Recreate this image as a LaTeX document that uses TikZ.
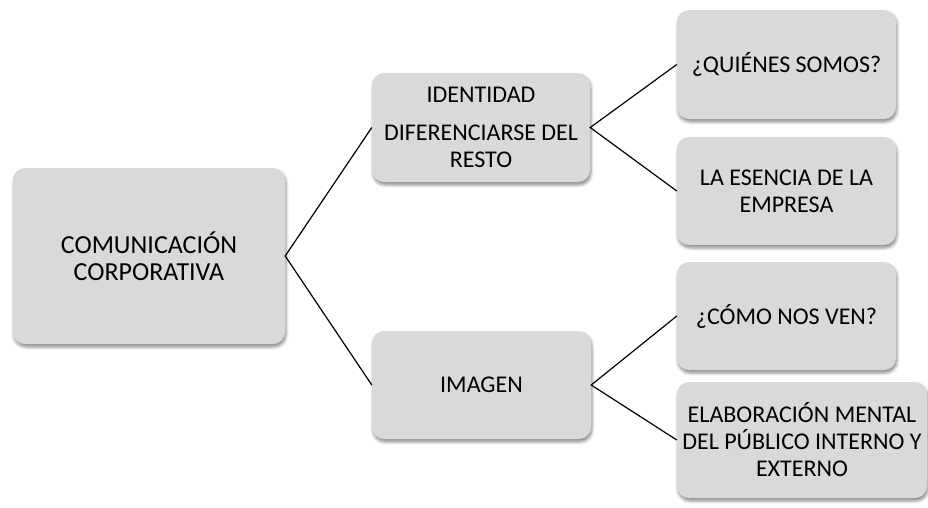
\documentclass[tikz,border=0pt]{standalone}
\usepackage{fontspec}
\setmainfont{Carlito}
\usetikzlibrary{shadows.blur}
\definecolor{boxgray}{HTML}{D9D9D9}
\begin{document}
\begin{tikzpicture}[x=1pt,y=-1pt,
  card/.style={rectangle, rounded corners=12pt, fill=boxgray, draw=none,
    align=center, inner sep=0pt,
    blur shadow={shadow xshift=1pt, shadow yshift=-3pt, shadow blur radius=3pt, shadow opacity=45},
    font=\fontsize{24}{27}\selectfont},
  link/.style={draw=black, line width=1.2pt}]
\useasboundingbox (0,0) rectangle (928,507);

\node[card, minimum width=272pt, minimum height=176pt,
  font=\fontsize{26}{27.5}\selectfont] (root) at (149,256)
  {COMUNICACIÓN\\CORPORATIVA};

\node[card, minimum width=218pt, minimum height=109pt] (ident) at (481,127.5)
  {IDENTIDAD\\[11pt]DIFERENCIARSE DEL\\RESTO};
\node[card, minimum width=219pt, minimum height=108pt] (imagen) at (481.5,385)
  {IMAGEN};

\node[card, minimum width=219pt, minimum height=109pt] (quienes) at (786.5,64.5)
  {¿QUIÉNES SOMOS?};
\node[card, minimum width=219pt, minimum height=108pt] (esencia) at (786.5,191)
  {LA ESENCIA DE LA\\EMPRESA};
\node[card, minimum width=219pt, minimum height=108pt] (comonos) at (786.5,316)
  {¿CÓMO NOS VEN?};
\node[card, minimum width=250pt, minimum height=116pt] (mental) at (802,440)
  {ELABORACIÓN MENTAL\\DEL PÚBLICO INTERNO Y\\EXTERNO};

\draw[link] (ident.west) -- (root.east) -- (imagen.west);
\draw[link] (quienes.west) -- (ident.east) -- (esencia.west);
\draw[link] (comonos.west) -- (imagen.east) -- (mental.west);
\end{tikzpicture}
\end{document}
